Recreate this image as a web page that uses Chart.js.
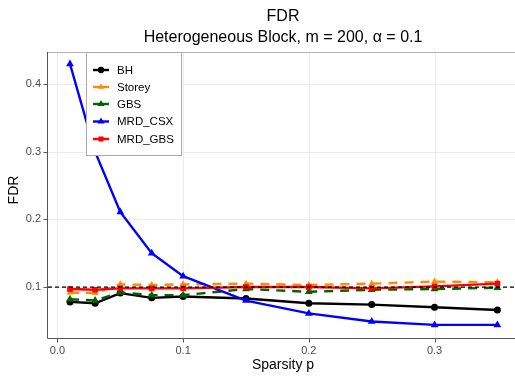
<!DOCTYPE html>
<html>
<head>
<meta charset="utf-8">
<script src="https://cdn.jsdelivr.net/npm/chart.js@4"></script>
<style>
  html, body { margin: 0; padding: 0; background: #ffffff; overflow: hidden; }
  #wrap { position: relative; width: 515px; height: 377px; }
  canvas { display: block; }
</style>
</head>
<body>
<div id="wrap"><canvas id="c" width="515" height="377"></canvas></div>
<script>
// ---- data ----
const titleText = "FDR";
const subtitleText = "Heterogeneous Block, m = 200, \u03b1 = 0.1";
const xAxisTitle = "Sparsity p";
const yAxisTitle = "FDR";
const alphaLevel = 0.1;
const sparsity = [0.01, 0.03, 0.05, 0.075, 0.1, 0.15, 0.2, 0.25, 0.3, 0.35];
const seriesNames = ["BH", "Storey", "GBS", "MRD_CSX", "MRD_GBS"];
const bh      = [0.078, 0.076, 0.091, 0.084, 0.086, 0.083, 0.076, 0.074, 0.070, 0.066];
const storey  = [0.092, 0.091, 0.104, 0.103, 0.104, 0.105, 0.103, 0.105, 0.108, 0.107];
const gbs     = [0.082, 0.080, 0.092, 0.088, 0.088, 0.097, 0.093, 0.096, 0.097, 0.099];
const mrdCsx  = [0.430, 0.300, 0.211, 0.150, 0.116, 0.080, 0.061, 0.049, 0.044, 0.044];
const mrdGbs  = [0.097, 0.096, 0.098, 0.098, 0.098, 0.100, 0.100, 0.098, 0.101, 0.105];
const xTicks = [0.0, 0.1, 0.2, 0.3];
const yTicks = [0.1, 0.2, 0.3, 0.4];

// ---- styles ----
const colors = ["#000000", "#FF8C00", "#006400", "#0000FF", "#FF0000"];
const shapes = ["circle", "triangle", "triangle", "triangle", "rect"];
const radii  = [3.5, 4, 4.5, 4.5, 4];
const dashes = [[], [9, 7], [9, 7], [], []];
const values = [bh, storey, gbs, mrdCsx, mrdGbs];

const datasets = seriesNames.map((name, i) => ({
  label: name,
  data: sparsity.map((x, j) => ({ x: x, y: values[i][j] })),
  borderColor: colors[i],
  backgroundColor: colors[i],
  borderWidth: 2.4,
  borderDash: dashes[i],
  pointStyle: shapes[i],
  pointRadius: radii[i],
  pointBorderWidth: 0,
  pointBackgroundColor: colors[i],
  tension: 0,
  order: seriesNames.length - 1 - i
}));

const FONT = "'Liberation Sans', Arial, sans-serif";
const PANEL_RIGHT = 515;

const decor = {
  id: 'decor',
  afterLayout(chart) {
    const xs = chart.scales.x;
    chart.chartArea.right = PANEL_RIGHT;
    chart.chartArea.width = PANEL_RIGHT - chart.chartArea.left;
    xs.right = PANEL_RIGHT;
    xs.width = PANEL_RIGHT - xs.left;
    xs.configure();
    chart.scales.y.configure();
  },
  beforeDatasetsDraw(chart) {
    const ctx = chart.ctx, a = chart.chartArea;
    const xs = chart.scales.x, ys = chart.scales.y;
    ctx.save();
    ctx.strokeStyle = "#ebebeb";
    ctx.lineWidth = 1;
    ctx.beginPath();
    xTicks.forEach(v => {
      const px = Math.round(xs.getPixelForValue(v)) + 0.5;
      ctx.moveTo(px, a.top); ctx.lineTo(px, a.bottom);
    });
    yTicks.forEach(v => {
      const py = Math.round(ys.getPixelForValue(v)) + 0.5;
      ctx.moveTo(a.left, py); ctx.lineTo(a.right, py);
    });
    ctx.stroke();
    // axis lines and tick marks
    ctx.strokeStyle = "#555555";
    ctx.beginPath();
    const bx = Math.round(a.left) - 0.5, by = Math.round(a.bottom) + 0.5;
    ctx.moveTo(bx, a.top); ctx.lineTo(bx, by);
    ctx.lineTo(a.right, by);
    xTicks.forEach(v => {
      const px = Math.round(xs.getPixelForValue(v)) + 0.5;
      ctx.moveTo(px, by); ctx.lineTo(px, by + 4);
    });
    yTicks.forEach(v => {
      const py = Math.round(ys.getPixelForValue(v)) + 0.5;
      ctx.moveTo(bx, py); ctx.lineTo(bx - 4, py);
    });
    ctx.stroke();
    // top panel border
    ctx.strokeStyle = "#b3b3b3";
    ctx.beginPath();
    ctx.moveTo(a.left, a.top + 0.5);
    ctx.lineTo(a.right, a.top + 0.5);
    ctx.stroke();
    ctx.restore();
  },
  afterDatasetsDraw(chart) {
    const ctx = chart.ctx, a = chart.chartArea;
    const ys = chart.scales.y;
    ctx.save();
    ctx.beginPath();
    ctx.rect(a.left, a.top, a.right - a.left, a.bottom - a.top);
    ctx.clip();
    ctx.strokeStyle = "#000000";
    ctx.lineWidth = 1.2;
    ctx.setLineDash([4, 3]);
    const yp = ys.getPixelForValue(alphaLevel);
    ctx.beginPath();
    ctx.moveTo(a.left, yp);
    ctx.lineTo(a.right, yp);
    ctx.stroke();
    ctx.restore();
  },
  afterDraw(chart) {
    const ctx = chart.ctx;
    ctx.save();
    const cx = 283;
    ctx.fillStyle = "#000000";
    ctx.textAlign = "center";
    ctx.textBaseline = "middle";
    ctx.font = "16px " + FONT;
    ctx.fillText(titleText, cx, 17);
    ctx.fillText(subtitleText, cx, 38);
    ctx.font = "14px " + FONT;
    ctx.fillText(xAxisTitle, cx, 365);
    ctx.save();
    ctx.translate(14, 190);
    ctx.rotate(-Math.PI / 2);
    ctx.fillText(yAxisTitle, 0, 0);
    ctx.restore();

    const lx = 86, ly = 52, lw = 95, lh = 103;
    ctx.fillStyle = "#ffffff";
    ctx.fillRect(lx, ly, lw, lh);
    ctx.strokeStyle = "#aaaaaa";
    ctx.lineWidth = 1;
    ctx.strokeRect(lx + 0.5, ly + 0.5, lw, lh);
    const itemY = [70, 87, 104, 121.5, 139];
    chart.data.datasets.forEach((ds, i) => {
      const y = itemY[i];
      ctx.strokeStyle = ds.borderColor;
      ctx.lineWidth = 2.4;
      ctx.setLineDash([]);
      ctx.beginPath();
      ctx.moveTo(93, y);
      ctx.lineTo(109, y);
      ctx.stroke();
      ctx.fillStyle = ds.borderColor;
      Chart.helpers.drawPoint(ctx, { pointStyle: ds.pointStyle, radius: ds.pointRadius * 0.9, borderWidth: 0 }, 101, y);
      ctx.fillStyle = "#000000";
      ctx.textAlign = "left";
      ctx.textBaseline = "middle";
      ctx.font = "11.5px " + FONT;
      ctx.fillText(ds.label, 117, y + 0.5);
    });
    ctx.restore();
  }
};

new Chart(document.getElementById('c'), {
  type: 'line',
  data: { datasets: datasets },
  plugins: [decor],
  options: {
    responsive: false,
    animation: false,
    devicePixelRatio: 1,
    layout: { padding: { top: 52, right: 0, bottom: 0, left: 0 } },
    plugins: { legend: { display: false }, title: { display: false }, tooltip: { enabled: false } },
    scales: {
      x: {
        type: 'linear',
        min: -0.0075,
        max: 0.364,
        afterFit(s) { s.height = 39; s.paddingLeft = 0; s.paddingRight = 0; },
        afterBuildTicks(s) { s.ticks = xTicks.map(v => ({ value: v })); },
        ticks: { color: "#4d4d4d", font: { family: FONT, size: 11 }, padding: 6, maxRotation: 0,
                 callback: v => v.toFixed(1) },
        grid: { display: false, drawTicks: false },
        border: { display: false }
      },
      y: {
        type: 'linear',
        min: 0.0246,
        max: 0.4477,
        afterFit(s) { s.width = 48; s.paddingTop = 0; s.paddingBottom = 0; },
        afterBuildTicks(s) { s.ticks = yTicks.map(v => ({ value: v })); },
        ticks: { color: "#4d4d4d", font: { family: FONT, size: 11 }, padding: 7,
                 callback: v => v.toFixed(1) },
        grid: { display: false, drawTicks: false },
        border: { display: false }
      }
    }
  }
});
</script>
</body>
</html>
